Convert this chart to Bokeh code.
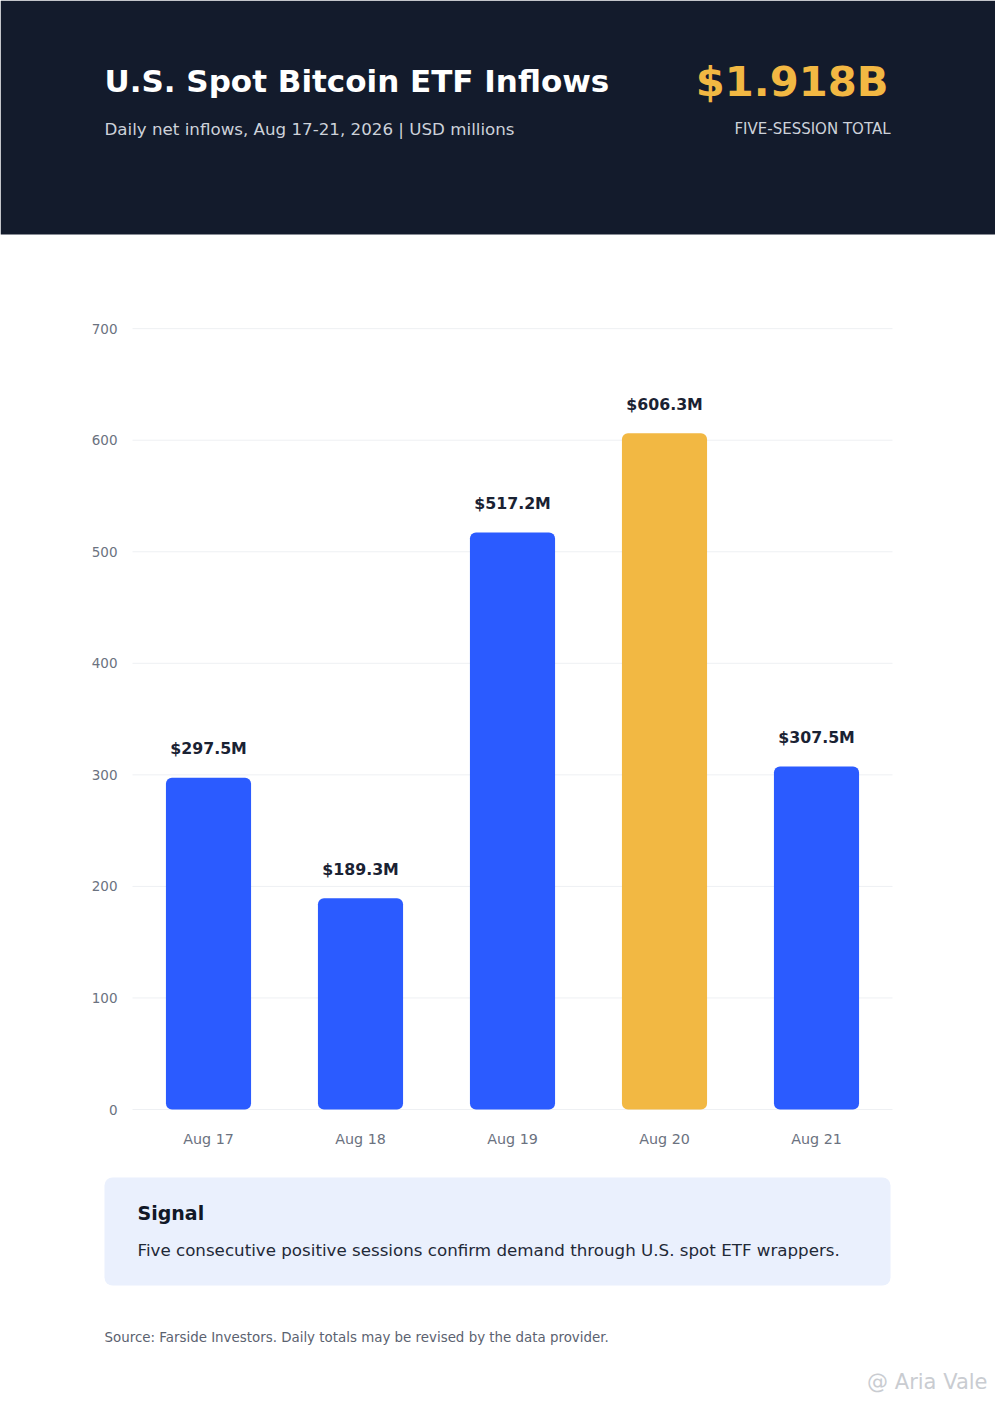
from bokeh.plotting import figure
from bokeh.models import Range1d, ColumnDataSource
from bokeh.core.properties import value
from bokeh.embed import file_html
from bokeh.resources import INLINE

# ---- data ----
categories = ["Aug 17", "Aug 18", "Aug 19", "Aug 20", "Aug 21"]
inflows = [297.5, 189.3, 517.2, 606.3, 307.5]
y_ticks = [0, 100, 200, 300, 400, 500, 600, 700]

title_text = "U.S. Spot Bitcoin ETF Inflows"
subtitle_text = "Daily net inflows, Aug 17-21, 2026 | USD millions"
total_caption = "FIVE-SESSION TOTAL"
signal_title = "Signal"
signal_body = "Five consecutive positive sessions confirm demand through U.S. spot ETF wrappers."
source_text = "Source: Farside Investors. Daily totals may be revised by the data provider."
watermark_text = "@ Aria Vale"

FONT = value("DejaVu Sans")
W, H = 995, 1404
FL, FR, FT, FB = 132, 892, 317, 1109   # plot-area edges on the page (pixels)
YMAX = 710
DARK = "#131B2C"
BLUE = "#2B5BFF"
GOLD = "#F2B843"
TICK = "#6B7280"

n = len(categories)
xpos = list(range(n))
vmax = max(inflows)
colors = [GOLD if v == vmax else BLUE for v in inflows]
labels = [f"${v:.1f}M" for v in inflows]
src = ColumnDataSource(dict(x=xpos, val=inflows, color=colors, label=labels, cat=categories))
tick_src = ColumnDataSource(dict(y=y_ticks, x0=[-0.5] * len(y_ticks),
                                 x1=[n - 0.5] * len(y_ticks),
                                 text=[str(t) for t in y_ticks]))

# whole page is the frame: main ranges are page pixels (y down)
p = figure(width=W, height=H, x_range=Range1d(0, W), y_range=Range1d(H, 0),
           output_backend="svg", toolbar_location=None, tools="",
           x_axis_location=None, y_axis_location=None, min_border=0,
           outline_line_color=None, background_fill_color="white",
           border_fill_color="white")
p.grid.visible = False

# chart scales: category index on x, USD millions on y, mapped into the plot area
ux = n / (FR - FL)
uy = YMAX / (FB - FT)
p.extra_x_ranges = {"cx": Range1d(-0.5 - FL * ux, (n - 0.5) + (W - FR) * ux)}
p.extra_y_ranges = {"cy": Range1d(-(H - FB) * uy, YMAX + FT * uy)}
C = dict(x_range_name="cx", y_range_name="cy")

# ---- header ----
p.quad(left=[0], right=[W], top=[0], bottom=[234], fill_color=DARK, line_color=None)
p.text(x=[104], y=[80], text=[title_text], text_font=FONT, text_font_style="bold",
       text_font_size="31px", text_color="white", text_baseline="middle")
p.text(x=[104], y=[128], text=[subtitle_text], text_font=FONT,
       text_font_size="16.7px", text_color="#CDD2DA", text_baseline="middle")
total = sum(inflows) / 1000.0
p.text(x=[888], y=[81], text=[f"${total:.3f}B"], text_font=FONT, text_font_style="bold",
       text_font_size="41.7px", text_color=GOLD, text_align="right",
       text_baseline="middle")
p.text(x=[890], y=[128], text=[total_caption], text_font=FONT,
       text_font_size="15px", text_color="#CDD2DA", text_align="right",
       text_baseline="middle")

# ---- chart ----
p.segment(x0="x0", x1="x1", y0="y", y1="y", source=tick_src, line_color="#EEF0F3",
          line_width=1, **C)
p.text(x="x0", y="y", text="text", source=tick_src, text_font=FONT,
       text_font_size="13.5px", text_color=TICK, text_align="right",
       text_baseline="middle", x_offset=-15, **C)
p.vbar(x="x", top="val", bottom=0, width=0.56, color="color", source=src,
       line_color=None, border_radius=6, **C)
p.text(x="x", y="val", text="label", source=src, text_font=FONT,
       text_font_style="bold", text_font_size="15.8px", text_color="#1A2233",
       text_align="center", text_baseline="middle", y_offset=-29, **C)
p.text(x="x", y=0, text="cat", source=src, text_font=FONT,
       text_font_size="14.3px", text_color=TICK, text_align="center",
       text_baseline="middle", y_offset=29, **C)

# ---- signal box and footer ----
p.quad(left=[104], right=[890], top=[1177], bottom=[1285], fill_color="#EAF0FD",
       line_color=None, border_radius=8)
p.text(x=[137], y=[1212], text=[signal_title], text_font=FONT, text_font_style="bold",
       text_font_size="19px", text_color="#111827", text_baseline="middle")
p.text(x=[137], y=[1249], text=[signal_body], text_font=FONT,
       text_font_size="16.7px", text_color="#1F2937", text_baseline="middle")
p.text(x=[104], y=[1337], text=[source_text], text_font=FONT,
       text_font_size="13.4px", text_color="#5B6270", text_baseline="middle")
p.text(x=[987], y=[1381], text=[watermark_text], text_font=FONT,
       text_font_size="21px", text_color="#C9CCD1", text_align="right",
       text_baseline="middle")

open("out.html", "w").write(file_html(p, INLINE))
